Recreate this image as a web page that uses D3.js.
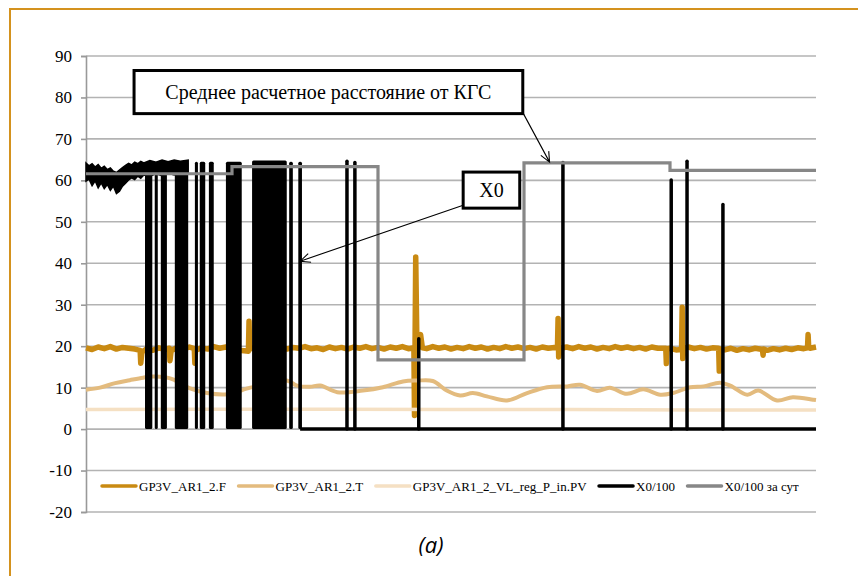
<!DOCTYPE html>
<html>
<head>
<meta charset="utf-8">
<script src="https://cdn.jsdelivr.net/npm/d3@7"></script>
<style>
  body { margin: 0; background: #fff; }
  svg { display: block; }
</style>
</head>
<body>
<svg id="chart"></svg>
<script>
// hours over 5 days
const yTicks = [-20, -10, 0, 10, 20, 30, 40, 50, 60, 70, 80, 90];

const seriesNames = ["GP3V_AR1_2.F", "GP3V_AR1_2.T", "GP3V_AR1_2_VL_reg_P_in.PV", "X0/100", "X0/100 за сут"];
const seriesColors = ["#c98a12", "#e3bb7e", "#f5e0c3", "#000000", "#878787"];

// GP3V_AR1_2.F  [hour, value]
const fData = [
  [0, 19.6], [1, 19.2], [2, 19.8], [3, 19.4], [4, 19.9], [5, 19.3], [6, 19.7], [7, 19.5], [8, 19.3],
  [8.9, 19.0], [9.0, 15.9], [9.2, 18.6], [10, 19.4], [11, 19.0], [12, 19.6], [13, 19.2], [13.7, 19.5],
  [13.8, 16.5], [14.0, 18.9], [15, 19.7], [16, 19.3], [17, 19.8], [17.8, 19.4], [17.9, 15.9], [18.0, 19.0],
  [19, 19.6], [20, 19.3], [21, 19.9], [22, 19.5], [23, 19.8], [24, 19.4], [25, 19.0], [26, 18.9],
  [26.7, 18.8], [26.8, 26.0], [26.9, 19.3], [28, 19.7], [29, 19.4], [30, 19.9], [31, 19.5], [32, 19.8],
  [33, 19.3], [34, 19.7], [35, 19.5], [36, 19.9], [37, 19.4], [38, 19.6], [39, 19.2], [40, 19.8],
  [41, 19.4], [42, 19.7], [43, 19.3], [44, 19.8], [45, 19.5], [46, 19.9], [47, 19.4], [48, 19.7],
  [49, 19.3], [50, 19.8], [51, 19.5], [52, 19.9], [53, 19.4], [53.9, 19.6], [54.0, 3.3], [54.2, 41.5],
  [54.4, 19.8], [55.0, 22.8], [55.3, 19.6], [56, 19.4], [57, 19.9], [58, 19.5], [59, 19.8], [60, 19.3],
  [61, 19.7], [62, 19.4], [63, 19.9], [64, 19.5], [65, 19.8], [66, 19.3], [67, 19.7], [68, 19.4],
  [69, 19.9], [70, 19.5], [71, 19.8], [72, 19.4], [73, 19.7], [74, 19.3], [75, 19.8], [76, 19.5],
  [77, 19.7], [77.5, 19.6], [77.6, 26.7], [77.7, 17.4], [78, 19.5], [79, 19.8], [80, 19.4], [81, 19.9],
  [82, 19.5], [83, 19.8], [84, 19.3], [85, 19.7], [86, 19.4], [87, 19.9], [88, 19.5], [89, 19.8],
  [90, 19.4], [91, 19.7], [92, 19.3], [93, 19.8], [94, 19.5], [95.3, 19.5], [95.4, 15.8], [95.5, 19.4],
  [96, 19.5], [97, 19.1], [97.9, 19.2], [98.0, 29.4], [98.1, 17.0], [98.3, 19.3], [99, 19.8], [100, 19.4],
  [101, 19.7], [102, 19.3], [103, 19.6], [104.0, 19.5], [104.1, 14.0], [104.2, 19.3], [105, 19.1],
  [106, 19.5], [107, 19.0], [108, 19.4], [109, 19.1], [110, 19.5], [111.2, 19.2], [111.3, 17.8],
  [111.4, 19.3], [112, 19.0], [113, 19.4], [114, 19.1], [115, 19.5], [116, 19.2], [117, 19.6],
  [118, 19.4], [118.6, 19.6], [118.7, 22.8], [118.8, 19.7], [119, 19.5], [120, 19.8]
];

// GP3V_AR1_2.T
const tData = [
  [0, 9.5], [2.3, 10.0], [4.8, 11.1], [7.2, 11.8], [9.4, 12.4], [11.0, 12.7], [13.0, 12.5], [14.3, 12.0],
  [17.1, 9.8], [19.9, 8.7], [23.2, 8.4], [27.0, 10.0], [30.0, 10.8], [33.0, 11.7], [34.7, 10.5],
  [36.8, 10.2], [38.5, 10.5], [41.3, 8.9], [45.5, 9.3], [48.8, 10.1], [52.1, 11.5], [54.4, 11.7],
  [57.0, 11.6], [59.3, 9.3], [61.5, 8.1], [63.6, 8.7], [65.9, 7.9], [69.2, 6.9], [72.5, 8.7],
  [75.8, 10.1], [79.1, 10.3], [81.2, 10.7], [84.0, 9.2], [86.1, 10.0], [88.9, 8.5], [91.6, 9.6],
  [94.4, 8.3], [96.5, 8.7], [99.3, 10.1], [101.5, 10.3], [104.2, 11.2], [105.9, 10.5], [108.7, 8.3],
  [110.5, 9.3], [113.6, 6.9], [116.2, 7.7], [119.5, 7.1], [120, 7.0]
];

// GP3V_AR1_2_VL_reg_P_in.PV
const pData = [[0, 4.7], [20, 4.8], [40, 4.8], [60, 4.7], [80, 4.7], [100, 4.6], [120, 4.6]];

// X0/100: noisy upper band at the start [hour, top, bottom]
const x0Band = [
  [0, 64.2, 59.8], [0.5, 63.5, 60.3], [1.0, 64.0, 58.7], [1.5, 63.2, 59.9], [2.0, 63.8, 58.2],
  [2.5, 62.9, 59.4], [3.0, 63.4, 58.0], [3.5, 62.6, 59.0], [4.0, 63.0, 57.6], [4.5, 62.2, 58.6],
  [5.0, 61.9, 56.8], [5.5, 62.5, 57.4], [6.0, 63.1, 58.6], [6.5, 63.6, 59.3], [7.0, 64.1, 60.1],
  [7.5, 63.7, 60.6], [8.0, 64.4, 60.2], [8.5, 64.0, 61.0], [9.0, 64.6, 60.5], [9.5, 64.2, 61.3],
  [10.5, 64.8, 61.0], [11.5, 64.4, 61.6], [12.5, 64.9, 61.1], [13.5, 64.5, 61.7], [14.5, 64.9, 61.3],
  [15.5, 64.6, 61.8], [16.8, 64.9, 61.5]
];
// X0/100: drops to zero [hour start, hour end, top]
const x0Drops = [
  [9.7, 10.9, 64.0], [11.3, 11.8, 64.0], [12.3, 13.3, 64.0], [14.6, 16.8, 64.5], [17.9, 18.4, 64.5],
  [18.7, 19.6, 64.5], [20.2, 21.0, 64.5], [23.0, 25.6, 64.5], [27.3, 33.0, 64.8], [33.4, 34.0, 64.5],
  [34.9, 35.5, 64.5]
];
// X0/100: zero after the last drop, with single spikes [hour, top]
const x0ZeroRange = [35.2, 120];
const x0Spikes = [[42.9, 64.6], [44.2, 64.3], [54.7, 21.8], [78.4, 64.3], [96.2, 60.1], [98.8, 64.6], [104.7, 54.2]];

// X0/100 за сут (daily)
const dailyHours = [0, 24, 48, 72, 96, 120];
const dailyValues = [61.6, 63.3, 16.7, 64.2, 62.4, 62.4];

// callouts: box [h0, h1, vTop, vBottom], arrow from box corner to [h, v]
const callouts = [
  { text: "Среднее расчетное расстояние от КГС", box: [7.9, 71.8, 86.5, 76.1], from: [71.9, 76.1], to: [76.2, 64.4] },
  { text: "X0", box: [62.0, 71.3, 62.0, 53.3], from: [62.0, 54.0], to: [35.2, 40.5] }
];

const width = 858;
const height = 576;

const svg = d3.select("#chart").attr("width", width).attr("height", height);

// frame
svg.append("rect")
  .attr("x", 10).attr("y", 9)
  .attr("width", width + 20).attr("height", height + 20)
  .attr("fill", "none")
  .attr("stroke", "#d4921e")
  .attr("stroke-width", 2);

const x = d3.scaleLinear().domain([0, 120]).range([86, 816]);
const y = d3.scaleLinear().domain([-20, 90]).range([512, 56]);

// grid
svg.append("g")
  .selectAll("line")
  .data(yTicks)
  .enter()
  .append("line")
  .attr("x1", x(0)).attr("x2", x(120))
  .attr("y1", (d) => y(d)).attr("y2", (d) => y(d))
  .attr("stroke", "#b3b3b3")
  .attr("stroke-width", 1.6);

// y axis (plain hyphen for negatives, like the original)
const yAxis = d3.axisLeft(y)
  .tickValues(yTicks)
  .tickFormat((d) => String(d))
  .tickSize(5)
  .tickPadding(9);
const yAxisG = svg.append("g")
  .attr("transform", `translate(${x(0)},0)`)
  .call(yAxis)
  .attr("font-family", "Liberation Serif")
  .attr("font-size", 17);
yAxisG.select(".domain").attr("stroke", "#999").attr("stroke-width", 1.6);
yAxisG.selectAll(".tick line").attr("stroke", "#999").attr("stroke-width", 1.6);
yAxisG.selectAll(".tick text").attr("fill", "#000");

const plot = svg.append("g");

// F
plot.append("path")
  .datum(fData)
  .attr("fill", "none")
  .attr("stroke", seriesColors[0])
  .attr("stroke-width", 5.5)
  .attr("stroke-linejoin", "round")
  .attr("d", d3.line().x((d) => x(d[0])).y((d) => y(d[1])));

// T
plot.append("path")
  .datum(tData)
  .attr("fill", "none")
  .attr("stroke", seriesColors[1])
  .attr("stroke-width", 4)
  .attr("d", d3.line().curve(d3.curveCatmullRom).x((d) => x(d[0])).y((d) => y(d[1])));

// P
plot.append("path")
  .datum(pData)
  .attr("fill", "none")
  .attr("stroke", seriesColors[2])
  .attr("stroke-width", 3.5)
  .attr("d", d3.line().x((d) => x(d[0])).y((d) => y(d[1])));

// X0/100
plot.append("path")
  .datum(x0Band)
  .attr("fill", "#000")
  .attr("stroke", "#000")
  .attr("stroke-width", 1.5)
  .attr("d", d3.area().x((d) => x(d[0])).y0((d) => y(d[2])).y1((d) => y(d[1])));

plot.append("g")
  .selectAll("rect")
  .data(x0Drops)
  .enter()
  .append("rect")
  .attr("x", (d) => x(d[0]))
  .attr("width", (d) => Math.max(3, x(d[1]) - x(d[0])))
  .attr("y", (d) => y(d[2]))
  .attr("height", (d) => y(0) - y(d[2]))
  .attr("rx", 1.5)
  .attr("fill", "#000");

plot.append("line")
  .attr("x1", x(x0ZeroRange[0])).attr("x2", x(x0ZeroRange[1]))
  .attr("y1", y(0)).attr("y2", y(0))
  .attr("stroke", "#000")
  .attr("stroke-width", 3.5);

plot.append("g")
  .selectAll("line")
  .data(x0Spikes)
  .enter()
  .append("line")
  .attr("x1", (d) => x(d[0])).attr("x2", (d) => x(d[0]))
  .attr("y1", y(0)).attr("y2", (d) => y(d[1]))
  .attr("stroke", "#000")
  .attr("stroke-width", 3.5)
  .attr("stroke-linecap", "round");

// daily mean
plot.append("path")
  .datum(dailyHours.map((h, i) => [h, dailyValues[i]]))
  .attr("fill", "none")
  .attr("stroke", seriesColors[4])
  .attr("stroke-width", 3.2)
  .attr("d", d3.line().curve(d3.curveStepAfter).x((d) => x(d[0])).y((d) => y(d[1])));

// callouts
callouts.forEach((c) => {
  const x0 = x(c.box[0]), x1 = x(c.box[1]);
  const y0 = y(c.box[2]), y1 = y(c.box[3]);
  const fx = x(c.from[0]), fy = y(c.from[1]);
  const tx = x(c.to[0]), ty = y(c.to[1]);
  const ang = Math.atan2(ty - fy, tx - fx);
  const len = 11, spread = 0.42;
  svg.append("path")
    .attr("d", `M${fx},${fy}L${tx},${ty}` +
      `M${tx - len * Math.cos(ang - spread)},${ty - len * Math.sin(ang - spread)}L${tx},${ty}` +
      `L${tx - len * Math.cos(ang + spread)},${ty - len * Math.sin(ang + spread)}`)
    .attr("fill", "none")
    .attr("stroke", "#000")
    .attr("stroke-width", 1.1);
  svg.append("rect")
    .attr("x", x0).attr("y", y0)
    .attr("width", x1 - x0).attr("height", y1 - y0)
    .attr("fill", "#fff")
    .attr("stroke", "#000")
    .attr("stroke-width", 3);
  svg.append("text")
    .attr("x", (x0 + x1) / 2)
    .attr("y", (y0 + y1) / 2 + 7)
    .attr("text-anchor", "middle")
    .attr("font-family", "Liberation Serif")
    .attr("font-size", 20)
    .text(c.text);
});

// legend
let lx = 102;
const ly = 486;
const legend = svg.append("g");
seriesNames.forEach((name, i) => {
  legend.append("line")
    .attr("x1", lx).attr("x2", lx + 34)
    .attr("y1", ly).attr("y2", ly)
    .attr("stroke", seriesColors[i])
    .attr("stroke-width", 3.5)
    .attr("stroke-linecap", "round");
  const t = legend.append("text")
    .attr("x", lx + 37)
    .attr("y", ly + 4.5)
    .attr("font-family", "Liberation Serif")
    .attr("font-size", 13)
    .text(name);
  lx += 37 + t.node().getComputedTextLength() + 12.5;
});

// caption
svg.append("text")
  .attr("x", 431)
  .attr("y", 553)
  .attr("text-anchor", "middle")
  .attr("font-family", "Open Sans")
  .attr("font-style", "italic")
  .attr("font-size", 22)
  .text("(а)");
</script>
</body>
</html>
